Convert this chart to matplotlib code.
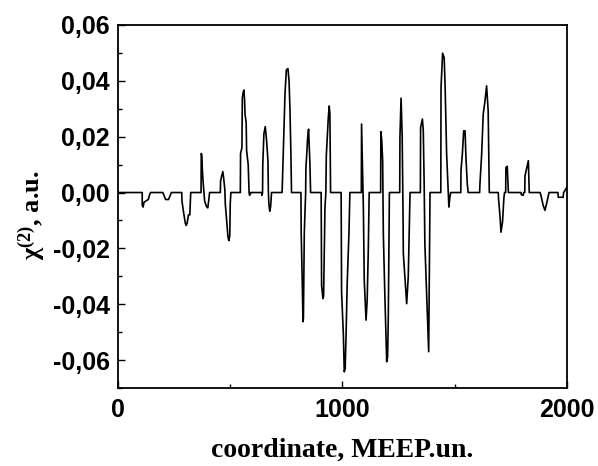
import matplotlib
matplotlib.use("Agg")
import matplotlib.pyplot as plt
from matplotlib.ticker import FuncFormatter, MultipleLocator

coordinate = [0, 108, 108, 112, 116, 125, 135, 140, 145,
    200, 205, 212, 225, 233, 238,
    284, 285, 292, 300, 304, 308, 314, 320, 324,
    370, 371, 373, 376, 379, 383, 386, 394, 400, 404, 408,
    456, 457, 462, 467, 471, 476, 478, 484, 490, 494, 498, 500, 503,
    545, 546, 552, 554, 558, 561, 564, 566, 571, 573, 580, 584, 586, 590, 592,
    640, 641, 644, 645, 650, 656, 662, 668, 670, 672, 676, 680, 684,
    731, 732, 736, 744, 750, 757, 762, 766, 770, 773,
    815, 816, 821, 824, 826, 830, 836,
    837, 845, 849, 855, 858,
    905, 907, 913, 916, 922, 926,
    928, 937, 941, 944, 947,
    994, 996, 1004, 1008, 1012, 1016, 1021, 1029, 1033,
    1084, 1085, 1088, 1092, 1093, 1097, 1105, 1110, 1115, 1119,
    1170, 1171, 1175, 1179, 1182, 1189, 1197, 1201, 1204, 1209,
    1255, 1256, 1261, 1266, 1270, 1271, 1278, 1286, 1293, 1301,
    1347, 1348, 1356, 1360, 1364, 1367, 1378, 1384, 1387, 1390,
    1438, 1439, 1446, 1453, 1457, 1464, 1471, 1474, 1478, 1482,
    1527, 1528, 1534, 1540, 1546, 1550, 1556, 1560,
    1611, 1612, 1620, 1627, 1635, 1642, 1649, 1654,
    1694, 1695, 1702, 1706, 1713, 1719, 1722, 1727, 1728, 1734, 1739,
    1795, 1797, 1805, 1807,
    1812, 1813, 1820, 1828, 1832,
    1880, 1884, 1894, 1902, 1912, 1920,
    1960, 1961, 1983, 1985, 1991, 2000]

chi2 = [0, 0, -0.0045, -0.0052, -0.0035, -0.003, -0.0025, -0.001, 0,
    0, -0.001, -0.0025, -0.0025, -0.001, 0,
    0, -0.003, -0.007, -0.011, -0.0118, -0.011, -0.008, -0.008, 0,
    0, 0.014, 0.0135, 0.008, 0.004, 0.0, -0.003, -0.005, -0.0055, -0.003, 0,
    0, 0.004, 0.006, 0.0075, 0.005, 0.001, -0.004, -0.01, -0.016, -0.0172, -0.0155, -0.004, 0,
    0, 0.014, 0.016, 0.034, 0.036, 0.0367, 0.033, 0.028, 0.025, 0.015, 0.01, 0.0, -0.001, -0.0005, 0,
    0, -0.001, 0.0, 0.01, 0.021, 0.0236, 0.0186, 0.0114, 0.0, -0.004, -0.0067, -0.005, 0,
    0, 0.0025, 0.0139, 0.0354, 0.0439, 0.0444, 0.04, 0.030, 0.015, 0,
    0, -0.014, -0.0326, -0.0463, -0.045, -0.0142, 0,
    0.0085, 0.0198, 0.0227, 0.0102, 0,
    0, -0.0332, -0.038, -0.037, -0.0052, 0,
    0.0132, 0.027, 0.031, 0.028, 0,
    0, -0.0356, -0.051, -0.0642, -0.063, -0.051, -0.0326, -0.0142, 0,
    0, 0.0245, 0.0138, 0.001, -0.0052, -0.0314, -0.0457, -0.0386, -0.0207, 0,
    0, 0.0218, 0.0186, 0.0114, -0.0148, -0.0374, -0.0606, -0.059, -0.0457, 0,
    0, 0.0198, 0.0338, 0.02, -0.01, -0.0218, -0.0302, -0.0398, -0.0302, 0,
    0, 0.0233, 0.0263, 0.0221, 0.0025, -0.0183, -0.0433, -0.057, -0.03, 0,
    0, 0.0376, 0.0499, 0.0483, 0.0388, 0.0138, 0, -0.0052, -0.002, 0,
    0, 0.0079, 0.0138, 0.0221, 0.0221, 0.0126, 0.003, 0,
    0, 0.0025, 0.0138, 0.0281, 0.0329, 0.0382, 0.0293, 0,
    0, -0.002, -0.0088, -0.0142, -0.0105, -0.002, 0, 0, 0.009, 0.0094, 0,
    0, -0.0008, -0.001, 0,
    0, 0.006, 0.0085, 0.0114, 0,
    0, -0.001, -0.0046, -0.0064, -0.003, 0,
    0, -0.0017, -0.0017, 0, 0.0007, 0.002]

x_ticks = [0, 1000, 2000]
y_ticks = [-0.06, -0.04, -0.02, 0.00, 0.02, 0.04, 0.06]

plt.rcParams['mathtext.fontset'] = 'custom'
plt.rcParams['mathtext.bf'] = 'Liberation Serif:bold'
plt.rcParams['mathtext.rm'] = 'Liberation Serif:bold'
plt.rcParams['mathtext.it'] = 'Liberation Serif:bold:italic'

fig = plt.figure(figsize=(5.98, 4.66), dpi=100)
ax = fig.add_axes([0.1973, 0.1674, 0.7508, 0.779])
ax.plot(coordinate, chi2, color='black', lw=1.2)

ax.set_xlim(0, 2000)
ax.set_ylim(-0.07, 0.06)
ax.set_xticks(x_ticks)
ax.set_yticks(y_ticks)
ax.xaxis.set_minor_locator(MultipleLocator(500))
ax.yaxis.set_minor_locator(MultipleLocator(0.01))
ax.yaxis.set_major_formatter(FuncFormatter(lambda v, p: f"{v:.2f}".replace('.', ',').replace('-0,00', '0,00')))
ax.xaxis.set_major_formatter(FuncFormatter(lambda v, p: f"{int(round(v))}"))

ax.tick_params(which='both', direction='in', top=False, right=False, width=1.0)
ax.tick_params(which='major', length=5)
ax.tick_params(axis='y', which='major', pad=6)
ax.tick_params(axis='x', which='major', pad=7)
ax.tick_params(which='minor', length=3)
for s in ax.spines.values():
    s.set_linewidth(1.3)

for lab in ax.get_xticklabels() + ax.get_yticklabels():
    lab.set_fontfamily('Liberation Sans')
    lab.set_fontweight('bold')
    lab.set_fontsize(18)

ax.set_xlabel('coordinate, MEEP.un.', family='Liberation Serif', fontweight='bold', fontsize=20)
ax.xaxis.set_label_coords(0.5, -0.19)
ax.xaxis.label.set_verticalalignment('baseline')
ylab = ax.set_ylabel(r'$\mathbf{\chi}^{\mathbf{(2)}}$, a.u.', family='Liberation Serif', fontweight='bold', fontsize=19)
ax.yaxis.set_label_coords(-0.19, 0.475)
ylab.set_verticalalignment('center')

fig.savefig('out.png', dpi=100)
